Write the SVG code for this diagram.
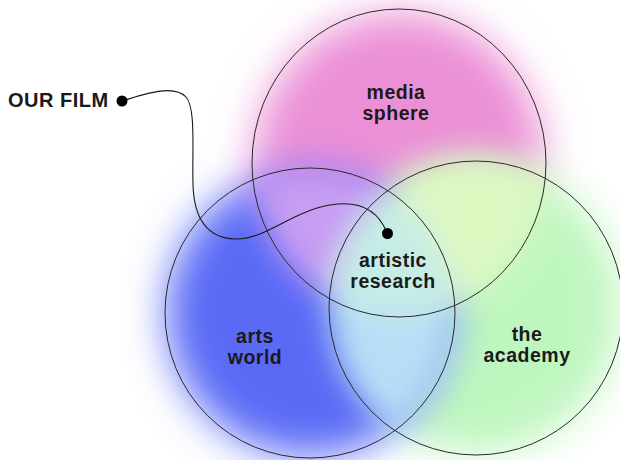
<svg xmlns="http://www.w3.org/2000/svg" width="620" height="460" viewBox="0 0 620 460">
<style>
.ring{fill:none;stroke:#2a2a2a;stroke-width:1}
.lbl{font-family:"Liberation Sans",Arial,sans-serif;font-weight:bold;font-size:19.5px;fill:#1a1a1a;text-anchor:middle;letter-spacing:0.5px}
.link{fill:none;stroke:#1a1a1a;stroke-width:1.1}
</style>
<defs>
<filter id="blurBig" x="-40%" y="-40%" width="180%" height="180%"><feGaussianBlur stdDeviation="20"/></filter>
<filter id="blurMid" x="-40%" y="-40%" width="180%" height="180%"><feGaussianBlur stdDeviation="15"/></filter>
<clipPath id="cT"><ellipse cx="399" cy="163" rx="147" ry="154"/></clipPath>
<clipPath id="cL"><circle cx="310" cy="313" r="145"/></clipPath>
<clipPath id="cR"><circle cx="476" cy="308" r="147"/></clipPath>
</defs>
<rect width="620" height="460" fill="#ffffff"/>
<g id="fills">
<g filter="url(#blurBig)">
<ellipse cx="399" cy="163" rx="145" ry="150" fill="#eb90d6"/>
<circle cx="476" cy="308" r="145" fill="#bff6bf"/>
<circle cx="310" cy="313" r="143" fill="#5a6af5"/>
</g>
<g filter="url(#blurMid)">
<g clip-path="url(#cT)"><circle cx="310" cy="313" r="145" fill="#c79cf3"/></g>
<g clip-path="url(#cT)"><circle cx="476" cy="308" r="147" fill="#def8c2"/></g>
<g clip-path="url(#cL)"><circle cx="476" cy="308" r="147" fill="#b8def6"/></g>
<g clip-path="url(#cT)"><g clip-path="url(#cL)"><circle cx="476" cy="308" r="147" fill="#c6ece6"/></g></g>
</g>
</g>
<g id="media-sphere">
<ellipse class="ring" cx="399" cy="163" rx="147" ry="154"/>
<text class="lbl" x="396" y="99">media</text>
<text class="lbl" x="396" y="120">sphere</text>
</g>
<g id="arts-world">
<circle class="ring" cx="310" cy="313" r="145"/>
<text class="lbl" x="255" y="343">arts</text>
<text class="lbl" x="255" y="364">world</text>
</g>
<g id="the-academy">
<circle class="ring" cx="476" cy="308" r="147"/>
<text class="lbl" x="527" y="341">the</text>
<text class="lbl" x="527" y="362">academy</text>
</g>
<g id="artistic-research">
<text class="lbl" x="393" y="267">artistic</text>
<text class="lbl" x="393" y="288">research</text>
</g>
<g id="our-film">
<text class="lbl" x="8" y="107" style="text-anchor:start;font-size:20px">OUR FILM</text>
</g>
<g id="connectors">
<path class="link" d="M122,101 C150,92 175,85 186,97 C196,108 192,150 193,185 C194,215 205,238 235,239 C265,240 290,212 330,205 C360,200 378,210 387,233"/>
<circle cx="122" cy="101" r="5.5" fill="#000"/>
<circle cx="387.5" cy="233.5" r="5.5" fill="#000"/>
</g>
</svg>
